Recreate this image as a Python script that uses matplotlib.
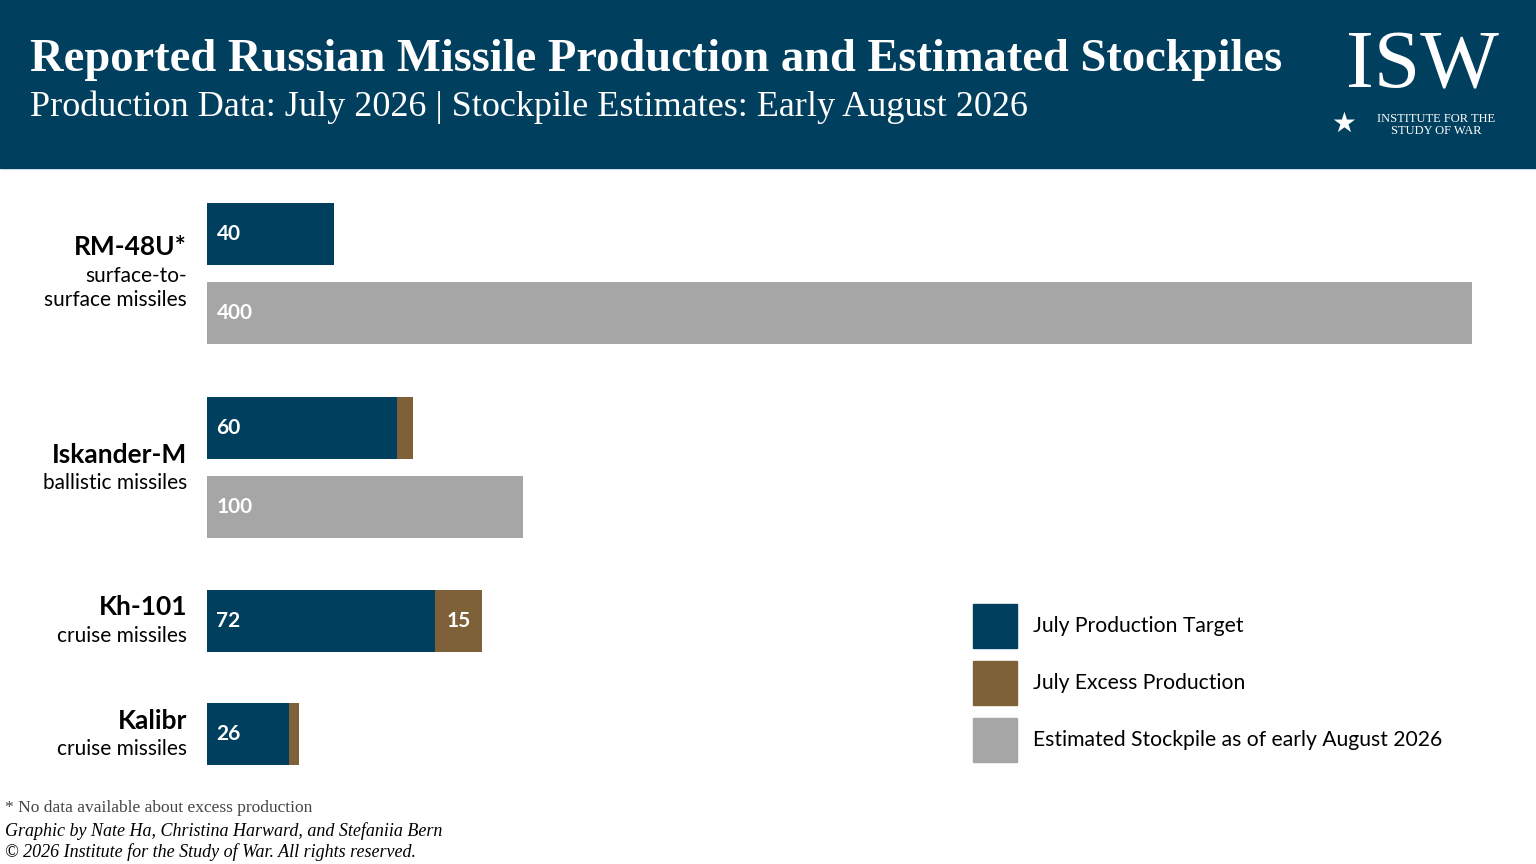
import matplotlib
matplotlib.use("Agg")
import matplotlib.pyplot as plt
from matplotlib.patches import Rectangle

# data
missiles = ["RM-48U*", "Iskander-M", "Kh-101", "Kalibr"]
subtitles = ["surface-to-\nsurface missiles", "ballistic missiles", "cruise missiles", "cruise missiles"]
production = [40, 60, 72, 26]
excess = [0, 5, 15, 3]
excess_labels = ["", "", "15", ""]
stockpile = [400, 100, None, None]

NAVY = "#003f5e"
BROWN = "#7e6139"
GRAY = "#a6a6a6"
SANS = "Lato"
SERIF = "Liberation Serif"

W, H = 1536, 864
fig = plt.figure(figsize=(W / 100, H / 100), dpi=100)

# header band
fig.patches.append(Rectangle((0, 1 - 168 / H), 1, 168 / H, transform=fig.transFigure,
                             color=NAVY, zorder=0))
fig.text(30 / W, 1 - 60 / H, "Reported Russian Missile Production and Estimated Stockpiles",
         color="white", fontsize=33.5, fontweight="bold", family=SERIF, va="center")
fig.text(30 / W, 1 - 107 / H, "Production Data: July 2026 | Stockpile Estimates: Early August 2026",
         color="white", fontsize=26, family=SERIF, va="center")
fig.text(1422 / W, 1 - 68 / H, "ISW", color="white", fontsize=60, family=SERIF,
         ha="center", va="center")
fig.text(1344 / W, 1 - 124 / H, "\u2605", color="white", fontsize=20, family="DejaVu Sans",
         ha="center", va="center")
fig.text(1436 / W, 1 - 125 / H, "INSTITUTE FOR THE\nSTUDY OF WAR", color="white", fontsize=9,
         family=SERIF, ha="center", va="center", linespacing=0.9)

# bar axes: x 207..1472 px covers 0..400
ax = fig.add_axes([207 / W, 0, (1472 - 207) / W, 1])
ax.set_xlim(0, 400)
ax.set_ylim(H, 0)
ax.axis("off")

bar_h = 62
prod_y = [234, 428, 621, 734]
stock_y = [313, 507, None, None]
label_y = [(247, 288), (455, 483), (607, 636), (721, 749)]

for i, name in enumerate(missiles):
    ax.barh(prod_y[i], production[i], height=bar_h, color=NAVY)
    ax.barh(prod_y[i], excess[i], left=production[i], height=bar_h, color=BROWN)
    ax.text(3, prod_y[i], str(production[i]), color="white", fontsize=15, fontweight="bold",
            family=SANS, va="center")
    if excess_labels[i]:
        ax.text(production[i] + excess[i] / 2, prod_y[i], excess_labels[i], color="white",
                fontsize=15, fontweight="bold", family=SANS, va="center", ha="center")
    if stockpile[i] is not None:
        ax.barh(stock_y[i], stockpile[i], height=bar_h, color=GRAY)
        ax.text(3, stock_y[i], str(stockpile[i]), color="white", fontsize=15, fontweight="bold",
                family=SANS, va="center")
    fig.text(187 / W, 1 - label_y[i][0] / H, name, fontsize=19, fontweight="bold",
             family=SANS, ha="right", va="center")
    fig.text(187 / W, 1 - label_y[i][1] / H, subtitles[i], fontsize=15, family=SANS,
             ha="right", va="center", linespacing=1.3)

# legend
legend_items = [(NAVY, "July Production Target"), (BROWN, "July Excess Production"),
                (GRAY, "Estimated Stockpile as of early August 2026")]
for k, (c, lab) in enumerate(legend_items):
    yc = 626 + k * 57
    fig.patches.append(Rectangle((973 / W, 1 - (yc + 22) / H), 44 / W, 44 / H,
                                 transform=fig.transFigure, color=c))
    fig.text(1033 / W, 1 - yc / H, lab, fontsize=15.2, family=SANS, va="center")

# footnotes
fig.text(5 / W, 1 - 808 / H, "* No data available about excess production", fontsize=12.5,
         family=SERIF, color="#444444", va="center")
fig.text(5 / W, 1 - 831 / H, "Graphic by Nate Ha, Christina Harward, and Stefaniia Bern",
         fontsize=13, family=SERIF, style="italic", va="center")
fig.text(5 / W, 1 - 852 / H, "\u00a9 2026 Institute for the Study of War. All rights reserved.",
         fontsize=13, family=SERIF, style="italic", va="center")

fig.savefig("out.png", dpi=100)
